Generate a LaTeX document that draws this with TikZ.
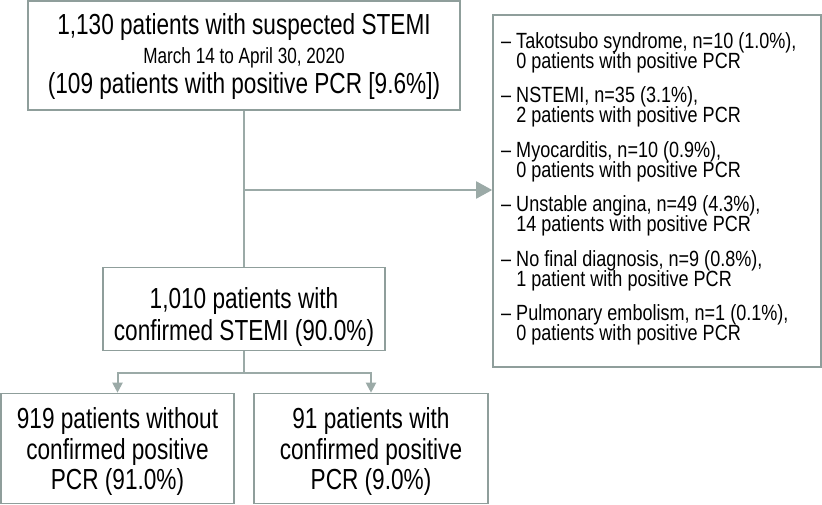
\documentclass[tikz,border=0pt]{standalone}
\usepackage{fontspec}
\setmainfont{Liberation Sans}[FakeStretch=0.78]
\newfontfamily\listfont{Liberation Sans}[FakeStretch=0.82]
\usetikzlibrary{arrows.meta}
\definecolor{boxgray}{RGB}{143,158,155}
\definecolor{linegray}{RGB}{155,170,167}
\newcommand{\topstrut}[1]{\rule{0pt}{#1pt}}
\newcommand{\botstrut}[1]{\rule[-#1pt]{0pt}{0pt}}
\newcommand{\nolsl}{\lineskiplimit=-30pt\relax}
\tikzset{
  box/.style={draw=boxgray, line width=1.6pt, fill=white, inner sep=0pt, align=center},
  conn/.style={draw=linegray, line width=2pt},
  bigtip/.style={-{Triangle[width=17pt,length=16pt]}},
  smalltip/.style={-{Triangle[width=10pt,length=10pt]}},
}
\begin{document}
\begin{tikzpicture}[x=1pt,y=-1pt]
\useasboundingbox (0,0) rectangle (822,505);
\node[box, minimum width=432pt, minimum height=109pt, font=\fontsize{29}{29.5}\selectfont\nolsl] (top) at (244,55.5)
  {\topstrut{23.1}1,130 patients with suspected STEMI\\
   {\fontsize{22}{24}\selectfont March 14 to April 30, 2020}\\
   (109 patients with positive PCR [9.6\%])\botstrut{6.5}};
\node[box, minimum width=328pt, minimum height=352pt] (list) at (657,191) {};
\node[anchor=north west, inner sep=0pt, align=left, font=\listfont\fontsize{22}{20}\selectfont\nolsl] (items) at (501,31.8)
  {\topstrut{16.5}– Takotsubo syndrome, n=10 (1.0\%),\\
   \hphantom{– }0 patients with positive PCR\\[14.4pt]
   – NSTEMI, n=35 (3.1\%),\\
   \hphantom{– }2 patients with positive PCR\\[14.4pt]
   – Myocarditis, n=10 (0.9\%),\\
   \hphantom{– }0 patients with positive PCR\\[14.4pt]
   – Unstable angina, n=49 (4.3\%),\\
   \hphantom{– }14 patients with positive PCR\\[14.4pt]
   – No final diagnosis, n=9 (0.8\%),\\
   \hphantom{– }1 patient with positive PCR\\[14.4pt]
   – Pulmonary embolism, n=1 (0.1\%),\\
   \hphantom{– }0 patients with positive PCR};
\node[box, minimum width=282pt, minimum height=83pt, font=\fontsize{29}{31.7}\selectfont\nolsl] (mid) at (244,309)
  {\topstrut{36.8}1,010 patients with\\confirmed STEMI (90.0\%)\botstrut{6.5}};
\node[box, minimum width=233pt, minimum height=110pt, font=\fontsize{29}{30.5}\selectfont\nolsl] (bl) at (117.5,448.5)
  {\topstrut{28.1}919 patients without\\confirmed positive\\PCR (91.0\%)\botstrut{6.5}};
\node[box, minimum width=234pt, minimum height=110pt, font=\fontsize{29}{30.5}\selectfont\nolsl] (br) at (371,448.5)
  {\topstrut{28.1}91 patients with\\confirmed positive\\PCR (9.0\%)\botstrut{6.5}};
\coordinate (branch) at (top.south |- 0,190);
\coordinate (split) at (mid.south |- 0,373);
\draw[conn] (top.south) -- (mid.north);
\draw[conn, bigtip] (branch) -- (list.west |- branch);
\draw[conn] (mid.south) -- (split);
\draw[conn, smalltip] (split) -| (bl.north);
\draw[conn, smalltip] (split) -| (br.north);
\end{tikzpicture}
\end{document}
